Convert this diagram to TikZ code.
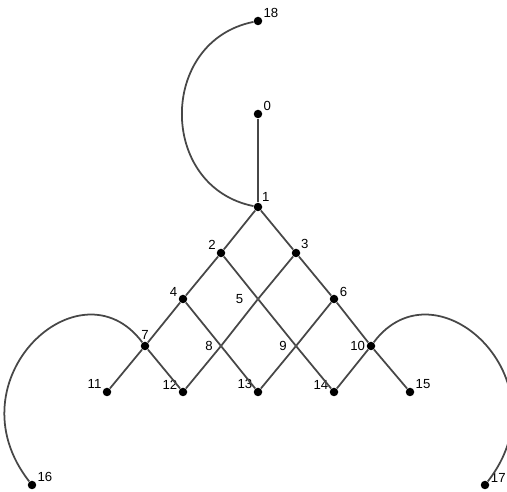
\documentclass[tikz,border=0pt]{standalone}
\usepackage{fontspec}
\setmainfont{Liberation Sans}
\begin{document}
\begin{tikzpicture}[x=0.02cm, y=-0.02cm,
	  vtx/.style={circle, fill=black, inner sep=0pt, minimum size=0.17cm},
	  cross/.style={inner sep=0pt, minimum size=0pt},
	  lbl/.style={font=\fontsize{7.5}{8}\selectfont, inner sep=0.6pt},
	  edge/.style={draw=black!72, line width=1pt}]
	  \useasboundingbox (0,0) rectangle (507,492);
	  \node[vtx, label={[lbl]25:18}] (18) at (258,21) {};
	  \node[vtx, label={[lbl]25:0}] (0) at (258,114) {};
	  \node[vtx, label={[lbl]55:1}] (1) at (258,207) {};
	  \node[vtx, label={[lbl]150:2}] (2) at (221,253) {};
	  \node[vtx, label={[lbl]35:3}] (3) at (296,253) {};
	  \node[vtx, label={[lbl]160:4}] (4) at (183,299) {};
	  \node[cross, label={[lbl, xshift=-0.26cm]180:5}] (5) at (258,299) {};
	  \node[vtx, label={[lbl]16:6}] (6) at (334,299) {};
	  \node[vtx, label={[lbl]88:7}] (7) at (145,346) {};
	  \node[cross, label={[lbl, xshift=-0.13cm]180:8}] (8) at (221,346) {};
	  \node[cross, label={[lbl, xshift=-0.15cm]180:9}] (9) at (296,346) {};
	  \node[vtx, label={[lbl]180:10}] (10) at (371,346) {};
	  \node[vtx, label={[lbl]155:11}] (11) at (107,392) {};
	  \node[vtx, label={[lbl]160:12}] (12) at (183,392) {};
	  \node[vtx, label={[lbl]160:13}] (13) at (258,392) {};
	  \node[vtx, label={[lbl]160:14}] (14) at (334,392) {};
	  \node[vtx, label={[lbl]20:15}] (15) at (410,392) {};
	  \node[vtx, label={[lbl]23:16}] (16) at (32,485) {};
	  \node[vtx, label={[lbl]8:17}] (17) at (485,485) {};
	  
	  \draw[edge] (0) -- (1);
	  \draw[edge] (1) -- (2) -- (4) -- (7) -- (11);
	  \draw[edge] (1) -- (3) -- (6) -- (10) -- (15);
	  \draw[edge] (2) -- (5) -- (9) -- (14);
	  \draw[edge] (3) -- (5) -- (8) -- (12);
	  \draw[edge] (4) -- (8) -- (13);
	  \draw[edge] (6) -- (9) -- (13);
	  \draw[edge] (7) -- (12);
	  \draw[edge] (10) -- (14);
	  \draw[edge] (1) .. controls +(-100,-20) and +(-100,20) .. (18);
	  \draw[edge] (7) .. controls +(-65,-87) and +(-82,-105) .. (16);
	  \draw[edge] (10) .. controls +(65,-87) and +(82,-105) .. (17);
	\end{tikzpicture}
\end{document}
